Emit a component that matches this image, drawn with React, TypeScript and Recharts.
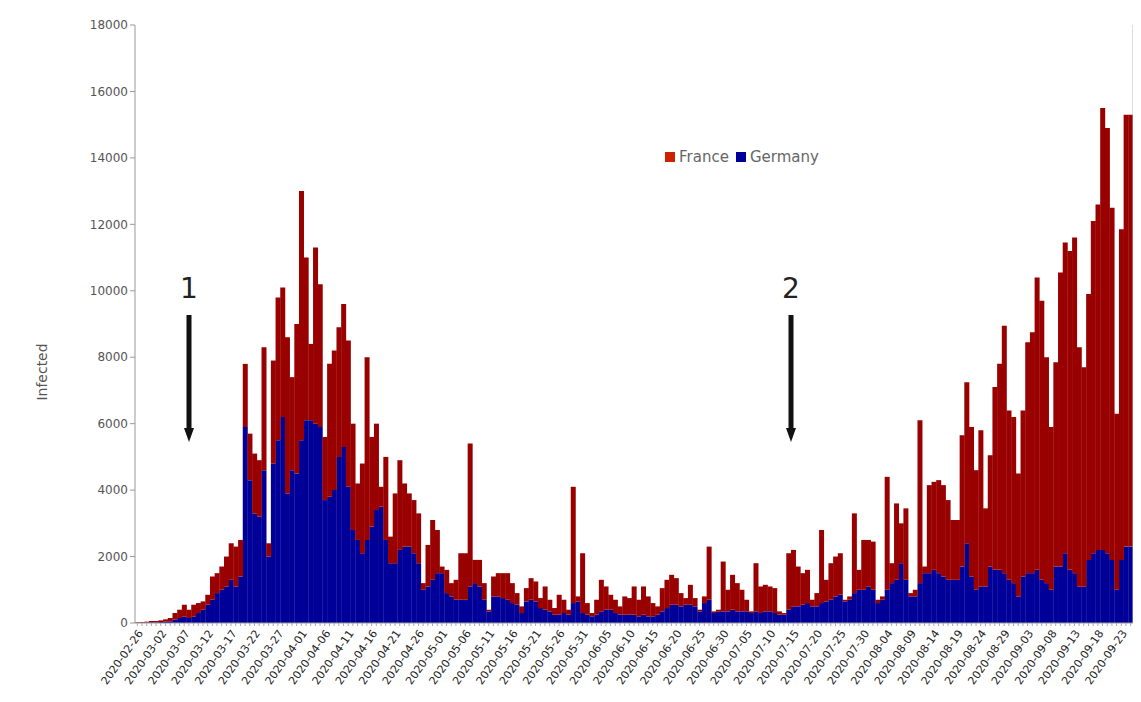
import React from "react";
import { BarChart, Bar, XAxis, YAxis } from "recharts";

// daily new infections, 2020-02-26 onwards
const START_DATE = "2020-02-26";

const germany = [
  0, 10, 10, 20, 20, 30, 40, 50, 100, 150,
  200, 150, 200, 300, 400, 550, 700, 900, 1000, 1100,
  1300, 1100, 1400, 5900, 4300, 3300, 3200, 4600, 2000, 4800,
  5500, 6200, 3900, 4600, 4500, 5500, 6100, 6100, 6000, 5900,
  3700, 3800, 4000, 5000, 5300, 4100, 2800, 2500, 2100, 2500,
  2900, 3400, 3500, 2500, 1800, 1800, 2200, 2300, 2300, 2100,
  1800, 1000, 1100, 1300, 1500, 1500, 900, 800, 700, 700,
  700, 1100, 1200, 1100, 700, 350, 800, 800, 750, 700,
  600, 550, 300, 650, 700, 650, 450, 400, 350, 250,
  250, 300, 250, 600, 650, 300, 250, 200, 250, 350,
  400, 400, 300, 250, 250, 250, 250, 200, 250, 200,
  200, 250, 350, 450, 550, 550, 500, 550, 550, 500,
  350, 600, 700, 300, 350, 350, 350, 400, 350, 350,
  350, 300, 350, 300, 350, 350, 300, 250, 250, 400,
  500, 500, 550, 600, 500, 500, 600, 650, 700, 800,
  850, 650, 700, 900, 1000, 1000, 1100, 1000, 600, 700,
  1000, 1200, 1300, 1800, 1300, 800, 800, 1200, 1500, 1500,
  1600, 1500, 1400, 1300, 1300, 1300, 1700, 2400, 1400, 1000,
  1100, 1100, 1700, 1600, 1600, 1500, 1300, 1200, 800, 1400,
  1500, 1500, 1600, 1300, 1200, 1000, 1700, 1700, 2100, 1600,
  1500, 1100, 1100, 1900, 2100, 2200, 2200, 2100, 1900, 1000,
  1900, 2300, 2300,
];

const france = [
  20, 20, 30, 40, 40, 50, 70, 100, 200, 250,
  350, 250, 350, 300, 250, 300, 700, 600, 700, 900,
  1100, 1200, 1100, 1900, 1400, 1800, 1700, 3700, 400, 3100,
  4300, 3900, 4700, 2800, 4500, 7500, 4900, 2300, 5300, 4300,
  1900, 4000, 4200, 3900, 4300, 4400, 3200, 1700, 2700, 5500,
  2700, 2600, 600, 2500, 800, 2100, 2700, 1900, 1600, 1600,
  1500, 200, 1250, 1800, 1300, 200, 700, 400, 600, 1400,
  1400, 4300, 700, 800, 500, 50, 600, 700, 750, 800,
  600, 350, 200, 400, 650, 600, 300, 700, 350, 200,
  600, 400, 150, 3500, 150, 1800, 350, 100, 450, 950,
  700, 450, 400, 250, 550, 500, 850, 500, 850, 600,
  400, 250, 700, 850, 900, 800, 400, 200, 600, 250,
  50, 200, 1600, 50, 50, 1500, 650, 1050, 850, 650,
  350, 50, 1450, 800, 800, 750, 750, 100, 50, 1700,
  1700, 1200, 950, 1000, 200, 400, 2200, 650, 1100, 1200,
  1250, 50, 100, 2400, 600, 1500, 1400, 1450, 100, 100,
  3400, 600, 2300, 1200, 2150, 100, 200, 4900, 200, 2650,
  2650, 2800, 2750, 2400, 1800, 1800, 3950, 4850, 4500, 3600,
  4700, 2350, 3350, 5500, 6200, 7450, 5100, 5000, 3700, 5000,
  6950, 7250, 8800, 8400, 6800, 4900, 6150, 8850, 9350, 9600,
  10100, 7200, 6600, 8000, 10000, 10400, 13300, 12800, 10600, 5300,
  9950, 13000, 13000,
];

const yTicks = [0, 2000, 4000, 6000, 8000, 10000, 12000, 14000, 16000, 18000];

function dateList(start: string, n: number) {
  const out: string[] = [];
  const d = new Date(start + "T00:00:00Z");
  for (let i = 0; i < n; i++) {
    out.push(d.toISOString().slice(0, 10));
    d.setUTCDate(d.getUTCDate() + 1);
  }
  return out;
}

const dates = dateList(START_DATE, germany.length);
const data = dates.map((date, i) => ({ date, germany: germany[i], france: france[i] }));

const FR = "#990000";
const DE = "#000099";

function DateTick(props: any) {
  const { x, y, payload } = props;
  const i = props.index ?? payload.index;
  if (i % 5 !== 0) return <g />;
  const ax = x + 3;
  const ay = y + 3;
  return (
    <text
      x={ax}
      y={ay}
      transform={`rotate(-55 ${ax} ${ay})`}
      textAnchor="end"
      dy="0.35em"
      fontSize={11}
      fill="#222"
      fontFamily="DejaVu Sans"
    >
      {payload.value}
    </text>
  );
}

function Arrow({ x, label }: { x: number; label: string }) {
  return (
    <g>
      <text x={x} y={298} textAnchor="middle" fontSize={28} fontFamily="DejaVu Sans" fill="#222">
        {label}
      </text>
      <rect x={x - 2.5} y={315} width={5} height={115} fill="#111" />
      <polygon points={`${x - 5},428 ${x + 5},428 ${x},442`} fill="#111" />
    </g>
  );
}

export default function App() {
  return (
    <div style={{ position: "relative", width: 1141, height: 702, margin: -8, background: "#fff" }}>
      <div style={{ position: "absolute", left: 0, top: 0 }}>
        <BarChart
          width={1141}
          height={702}
          data={data}
          margin={{ top: 25, right: 0, bottom: 0, left: 0 }}
          barCategoryGap={0}
          barGap={0}
        >
          <XAxis
            dataKey="date"
            interval={0}
            height={79}
            tick={(p: any) => <DateTick {...p} />}
            tickSize={3}
            tickLine={{ stroke: "#aaa" }}
            axisLine={{ stroke: "#999" }}
          />
          <YAxis
            domain={[0, 18000]}
            ticks={yTicks}
            interval={0}
            width={135}
            tickSize={5}
            tickLine={{ stroke: "#999" }}
            axisLine={{ stroke: "#999" }}
            tick={{ fontSize: 12, fill: "#555", fontFamily: "DejaVu Sans" }}
          />
          <YAxis
            yAxisId="r"
            orientation="right"
            width={8}
            domain={[0, 18000]}
            tick={false}
            tickLine={false}
            axisLine={{ stroke: "#bbb" }}
          />
          <Bar dataKey="germany" stackId="a" fill={DE} isAnimationActive={false} />
          <Bar dataKey="france" stackId="a" fill={FR} isAnimationActive={false} />
        </BarChart>
      </div>
      <svg width={1141} height={702} style={{ position: "absolute", left: 0, top: 0, pointerEvents: "none" }}>
        <path d="M5 7 H1136 V697 H5 Z" fill="none" stroke="#444" strokeWidth={2} />
        <text
          x={0}
          y={0}
          transform="translate(47 372) rotate(-90)"
          textAnchor="middle"
          fontSize={14}
          fontFamily="DejaVu Sans"
          fill="#555"
        >
          Infected
        </text>
        <Arrow x={189} label="1" />
        <Arrow x={791} label="2" />
      </svg>
      <div
        style={{
          position: "absolute",
          left: 665,
          top: 148,
          display: "flex",
          alignItems: "center",
          fontFamily: "DejaVu Sans",
          fontSize: 15,
          color: "#666",
          whiteSpace: "nowrap",
        }}
      >
        <span style={{ width: 10, height: 10, background: "#cc2200", display: "inline-block", marginRight: 4 }} />
        <span style={{ marginRight: 7 }}>France</span>
        <span style={{ width: 10, height: 10, background: DE, display: "inline-block", marginRight: 4 }} />
        <span>Germany</span>
      </div>
    </div>
  );
}
